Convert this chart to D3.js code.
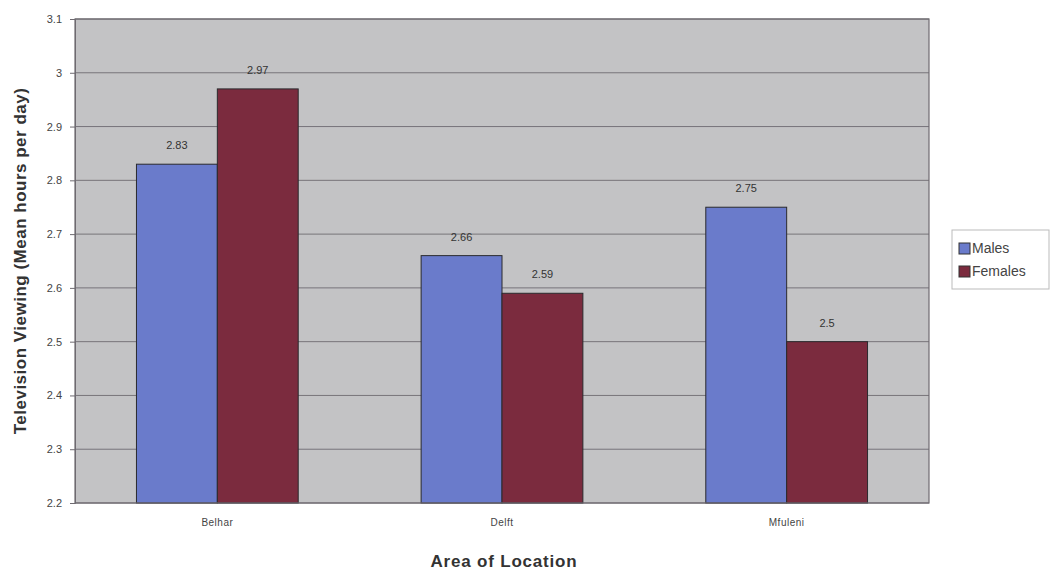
<!DOCTYPE html>
<html>
<head>
<meta charset="utf-8">
<script src="https://cdn.jsdelivr.net/npm/d3@7"></script>
<style>
  body { margin: 0; background: #fff; }
  svg { font-family: "Liberation Sans", Arial, sans-serif; }
</style>
</head>
<body>
<div id="chart-area"></div>
<script>
// data
var areas = ["Belhar", "Delft", "Mfuleni"];
var seriesNames = ["Males", "Females"];
var males = [2.83, 2.66, 2.75];
var females = [2.97, 2.59, 2.5];
var yTicks = [2.2, 2.3, 2.4, 2.5, 2.6, 2.7, 2.8, 2.9, 3, 3.1];

var colors = { Males: "#6a7bcb", Females: "#7b2b3e" };

var margin = { left: 75, right: 121, top: 19, bottom: 67 };
var width = 1050 - margin.left - margin.right,
    height = 570 - margin.top - margin.bottom;

var svg = d3.select("#chart-area")
    .append("svg")
    .attr("width", 1050)
    .attr("height", 570);

var g = svg.append("g")
    .attr("transform", "translate(" + margin.left + "," + margin.top + ")");

// x scale
var xScale = d3.scaleBand()
    .domain(areas)
    .range([0, width]);

// bars inside a group, Excel-like gap
var xInner = d3.scaleBand()
    .domain(seriesNames)
    .range([0, xScale.bandwidth()])
    .paddingOuter(0.76)
    .paddingInner(0);

// y scale
var yScale = d3.scaleLinear()
    .domain([2.2, 3.1])
    .range([height, 0]);

// plot background
g.append("rect")
    .attr("width", width)
    .attr("height", height)
    .attr("fill", "#c3c3c5");

// grid lines
g.selectAll(".grid")
    .data(yTicks)
    .enter().append("line")
    .attr("x1", 0)
    .attr("x2", width)
    .attr("y1", d => yScale(d))
    .attr("y2", d => yScale(d))
    .attr("stroke", "#77747a")
    .attr("stroke-width", 1);

// bars
var rows = areas.map((a, i) => ({ area: a, values: [
    { name: "Males", value: males[i] },
    { name: "Females", value: females[i] }
]}));

var groups = g.selectAll(".group")
    .data(rows)
    .enter().append("g")
    .attr("transform", d => "translate(" + xScale(d.area) + ",0)");

groups.selectAll("rect")
    .data(d => d.values)
    .enter().append("rect")
    .attr("x", d => xInner(d.name))
    .attr("width", xInner.bandwidth())
    .attr("y", d => yScale(d.value))
    .attr("height", d => height - yScale(d.value))
    .attr("fill", d => colors[d.name])
    .attr("stroke", "#2a2a2e")
    .attr("stroke-width", 1);

groups.selectAll(".val")
    .data(d => d.values)
    .enter().append("text")
    .attr("x", d => xInner(d.name) + xInner.bandwidth() / 2)
    .attr("y", d => yScale(d.value) - 15)
    .attr("text-anchor", "middle")
    .attr("font-size", "11px")
    .attr("fill", "#333")
    .text(d => d.value);

// plot border
g.append("rect")
    .attr("width", width)
    .attr("height", height)
    .attr("fill", "none")
    .attr("stroke", "#6e6a70")
    .attr("stroke-width", 1.2);

// y axis
var leftAxis = d3.axisLeft(yScale)
    .tickValues(yTicks)
    .tickSize(5)
    .tickPadding(8)
    .tickFormat(d => d3.format("")(+d.toFixed(1)));

var yAxis = g.append("g").call(leftAxis);
yAxis.select(".domain").attr("stroke", "#6e6a70");
yAxis.selectAll(".tick line").attr("stroke", "#6e6a70");
yAxis.selectAll("text")
    .attr("font-size", "11px")
    .attr("fill", "#444")
    .attr("font-family", "Liberation Sans, Arial, sans-serif");

// x axis
var bottomAxis = d3.axisBottom(xScale).tickSize(0).tickPadding(16);
var xAxis = g.append("g")
    .attr("transform", "translate(0," + height + ")")
    .call(bottomAxis);
xAxis.select(".domain").remove();
xAxis.selectAll("text")
    .attr("font-size", "10px")
    .attr("fill", "#444")
    .attr("letter-spacing", "0.5px")
    .attr("font-family", "Liberation Sans, Arial, sans-serif");

// Labels
svg.append("text")
    .attr("x", margin.left + width / 2 + 2)
    .attr("y", 567)
    .attr("text-anchor", "middle")
    .attr("font-size", "17px")
    .attr("font-weight", "bold")
    .attr("fill", "#333")
    .attr("letter-spacing", "0.8px")
    .text("Area of Location");

svg.append("text")
    .attr("transform", "translate(26," + (margin.top + height / 2) + ") rotate(-90)")
    .attr("text-anchor", "middle")
    .attr("font-size", "17px")
    .attr("font-weight", "bold")
    .attr("fill", "#333")
    .attr("letter-spacing", "0.5px")
    .text("Television Viewing (Mean hours per day)");

// legend
var legend = svg.append("g")
    .attr("transform", "translate(952,230)");

legend.append("rect")
    .attr("width", 97)
    .attr("height", 59)
    .attr("fill", "#fff")
    .attr("stroke", "#bbb")
    .attr("stroke-width", 1);

seriesNames.forEach((name, i) => {
    var row = legend.append("g")
        .attr("transform", "translate(7," + (13 + i * 23) + ")");
    row.append("rect")
        .attr("width", 11)
        .attr("height", 11)
        .attr("fill", colors[name])
        .attr("stroke", "#333");
    row.append("text")
        .attr("x", 13)
        .attr("y", 10)
        .attr("font-size", "14px")
        .attr("fill", "#444")
        .text(name);
});
</script>
</body>
</html>
